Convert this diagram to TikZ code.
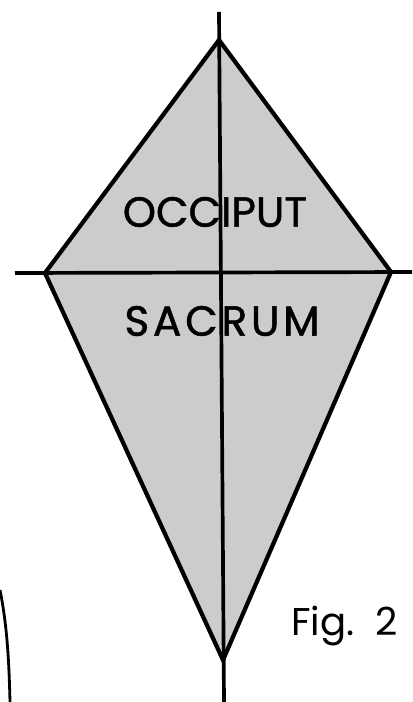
\documentclass[tikz,border=0pt]{standalone}
\usepackage{fontspec}
\setmainfont{Poppins}
\newfontfamily\kitefont{Poppins}[FakeBold=1.2]
\newfontfamily\kitewidefont{Poppins}[FakeBold=1.2,LetterSpace=9]
\usetikzlibrary{positioning}
\definecolor{kiteGray}{HTML}{CCCCCC}
\tikzset{
  % shaded kite outline
  kite/.style={draw=black,line width=2.4pt,line join=miter,fill=kiteGray},
  % axis lines through the kite
  axis/.style={draw=black,line width=2.1pt},
  % labels inside the kite
  lbl/.style={font=\kitefont\fontsize{24}{24}\selectfont,text=black,inner sep=0pt},
  figlbl/.style={font=\fontsize{22}{22}\selectfont,text=black,inner sep=0pt},
}
\begin{document}
\begin{tikzpicture}[x=0.02cm,y=-0.02cm]
  \useasboundingbox (0,0) rectangle (412,702);

  \coordinate (top) at (219,40);
  \coordinate (left) at (45,273);
  \coordinate (right) at (391,272);
  \coordinate (bot) at (223,660);
  \coordinate (vtop) at (219,12);
  \coordinate (vbot) at (224,702);
  \coordinate (hleft) at (15,273);
  \coordinate (hright) at (412,272);

  \path[kite] (top) -- (right) -- (bot) -- (left) -- cycle;
  \draw[axis] (vtop) -- (vbot);
  \draw[axis] (hleft) -- (hright);

  \node[lbl] (occ) at (215,212) {OCCIPUT};
  \node[lbl,font=\kitewidefont\fontsize{24}{24}\selectfont] (sac) at (222,321) {SACRUM};
  \node[figlbl,anchor=base west] (fig) at (291,635) {Fig.\ \ 2};

  % edge of the neighbouring figure
  \draw[line width=1.6pt] (0,590) .. controls (7,625) and (9,660) .. (10,702);
\end{tikzpicture}
\end{document}
